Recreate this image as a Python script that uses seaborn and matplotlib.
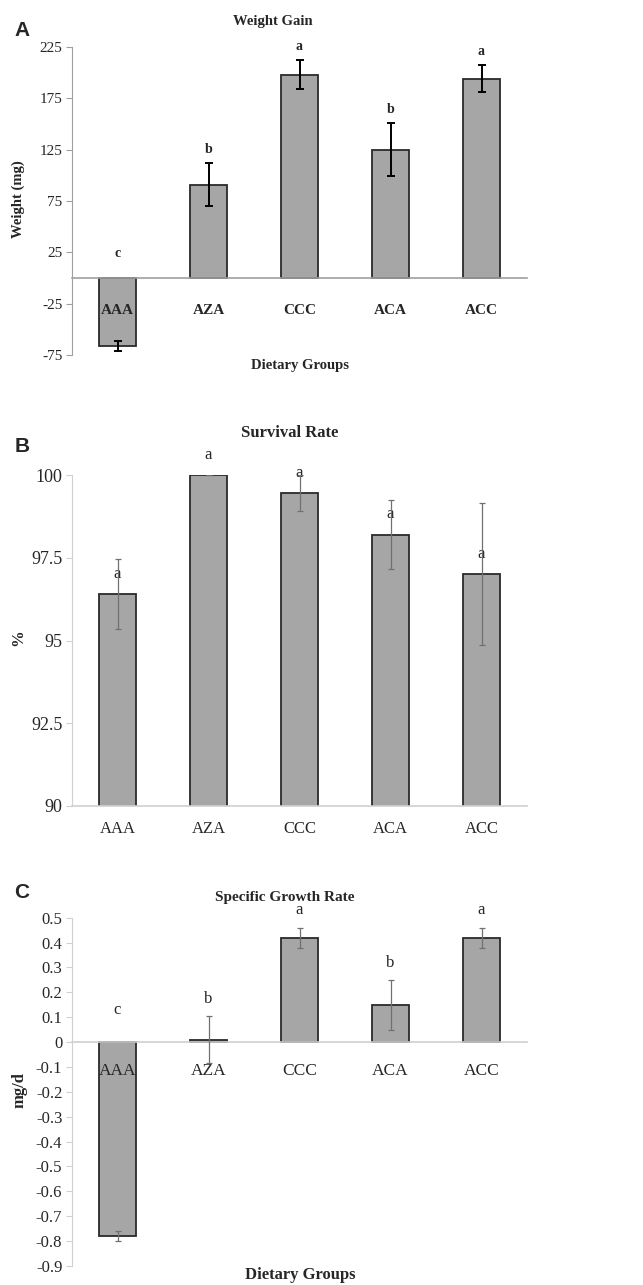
import numpy as np
import matplotlib
matplotlib.use("Agg")
import matplotlib.pyplot as plt
import seaborn as sns
from matplotlib.ticker import FuncFormatter

# dietary groups on the x axis, shared by all three panels
groups = ["AAA", "AZA", "CCC", "ACA", "ACC"]

# A - weight gain (mg)
wg_mean = [-66, 91, 198, 125, 194]
wg_err = [5, 21, 14, 26, 13]
wg_letters = ["c", "b", "a", "b", "a"]

# B - survival rate (%)
sr_mean = [96.4, 100.0, 99.45, 98.2, 97.0]
sr_err = [1.05, 0.0, 0.55, 1.05, 2.15]
sr_letters = ["a", "a", "a", "a", "a"]

# C - specific growth rate (mg/d)
sgr_mean = [-0.78, 0.01, 0.42, 0.15, 0.42]
sgr_err = [0.02, 0.095, 0.04, 0.10, 0.04]
sgr_letters = ["c", "b", "a", "b", "a"]

sns.set_style("white")
plt.rcParams['font.family'] = ['Liberation Serif', 'DejaVu Serif']
plt.rcParams['axes.axisbelow'] = False

W, H = 643, 1285
fig = plt.figure(figsize=(W / 100, H / 100), dpi=100)


def px_axes(left, top, right, bottom):
    return fig.add_axes([left / W, 1 - bottom / H, (right - left) / W, (bottom - top) / H])


def px_text(x, y, s, **kw):
    fig.text(x / W, 1 - y / H, s, ha="center", va="center", **kw)


def draw_bars(ax, mean, err, ecolor, elw, cap):
    sns.barplot(x=groups, y=mean, ax=ax, color="#a6a6a6", saturation=1,
                edgecolor="#2a2a2a", linewidth=1.3, width=0.41)
    ax.errorbar(np.arange(len(groups)), mean, yerr=err, fmt="none",
                ecolor=ecolor, elinewidth=elw, capsize=cap, capthick=elw, zorder=5)
    ax.set_xlim(-0.5, len(groups) - 0.5)
    ax.set_xlabel("")
    ax.set_ylabel("")
    ax.set_axisbelow(False)
    for s in ["top", "right"]:
        ax.spines[s].set_visible(False)


def put_letters(ax, letters, base, offset, **kw):
    for i, (lt, b) in enumerate(zip(letters, base)):
        ax.annotate(lt, (i, b), xytext=(0, offset), textcoords="offset points",
                    ha="center", va="center", annotation_clip=False, **kw)


def tick_fmt(v, p):
    if abs(v) < 1e-9:
        return "0"
    return f"{v:g}"


fmt = FuncFormatter(tick_fmt)

# ---------------- panel A
axA = px_axes(72, 47, 527, 355)
draw_bars(axA, wg_mean, wg_err, "black", 1.4, 3)
axA.set_ylim(-75, 225)
axA.set_yticks(np.arange(-75, 226, 50))
axA.yaxis.set_major_formatter(fmt)
axA.spines["bottom"].set_position(("data", 0))
axA.spines["bottom"].set_color("#a0a0a0")
axA.spines["left"].set_color("#a0a0a0")
axA.spines["bottom"].set_linewidth(1.2)
axA.tick_params(axis="y", direction="out", left=True, length=4, color="#a0a0a0",
                labelsize=11, pad=3)
axA.tick_params(axis="x", length=0, pad=19, labelsize=11)
for t in axA.get_xticklabels():
    t.set_fontweight("bold")
# letters over the negative bar sit a little higher above the zero line
baseA = [m + e if m > 0 else 10 for m, e in zip(wg_mean, wg_err)]
put_letters(axA, wg_letters, baseA, 10, fontsize=10, fontweight="bold")
px_text(273, 21, "Weight Gain", fontsize=10.5, fontweight="bold")
px_text(300, 365, "Dietary Groups", fontsize=10.5, fontweight="bold")
px_text(18, 199, "Weight (mg)", fontsize=10.5, fontweight="bold", rotation=90)
px_text(22, 30, "A", fontsize=15, fontweight="bold", family="Liberation Sans")

# ---------------- panel B
axB = px_axes(72, 475, 527, 806)
draw_bars(axB, sr_mean, sr_err, "#707070", 0.9, 2.5)
axB.set_ylim(90, 100)
axB.set_yticks(np.arange(90, 100.1, 2.5))
axB.yaxis.set_major_formatter(fmt)
axB.spines["bottom"].set_color("#d0d0d0")
axB.spines["left"].set_color("#d0d0d0")
axB.spines["bottom"].set_linewidth(1.2)
axB.tick_params(axis="y", direction="out", left=True, length=4, color="#d0d0d0",
                labelsize=13, pad=3)
axB.tick_params(axis="x", length=0, pad=11, labelsize=12)
put_letters(axB, sr_letters, sr_mean, 14.5, fontsize=12)
px_text(290, 433, "Survival Rate", fontsize=12, fontweight="bold")
px_text(18, 638, "%", fontsize=12, fontweight="bold", rotation=90)
px_text(22, 447, "B", fontsize=15, fontweight="bold", family="Liberation Sans")

# ---------------- panel C
axC = px_axes(72, 917.7, 527, 1266)
draw_bars(axC, sgr_mean, sgr_err, "#707070", 0.9, 2.5)
axC.set_ylim(-0.9, 0.5)
axC.set_yticks(np.round(np.arange(-0.9, 0.51, 0.1), 1))
axC.yaxis.set_major_formatter(fmt)
axC.spines["bottom"].set_position(("data", 0))
axC.spines["bottom"].set_color("#d0d0d0")
axC.spines["left"].set_color("#d0d0d0")
axC.spines["bottom"].set_linewidth(1.2)
axC.tick_params(axis="y", direction="out", left=True, length=4, color="#d0d0d0",
                labelsize=12, pad=3)
axC.tick_params(axis="x", length=0, pad=15, labelsize=12.5)
baseC = [m + e if m > 0 else 0.06 for m, e in zip(sgr_mean, sgr_err)]
put_letters(axC, sgr_letters, baseC, 12.5, fontsize=12)
px_text(285, 897, "Specific Growth Rate", fontsize=11, fontweight="bold")
px_text(300, 1275, "Dietary Groups", fontsize=12, fontweight="bold")
px_text(19, 1090, "mg/d", fontsize=12, fontweight="bold", rotation=90)
px_text(22, 892, "C", fontsize=15, fontweight="bold", family="Liberation Sans")

fig.savefig("out.png", dpi=100)
